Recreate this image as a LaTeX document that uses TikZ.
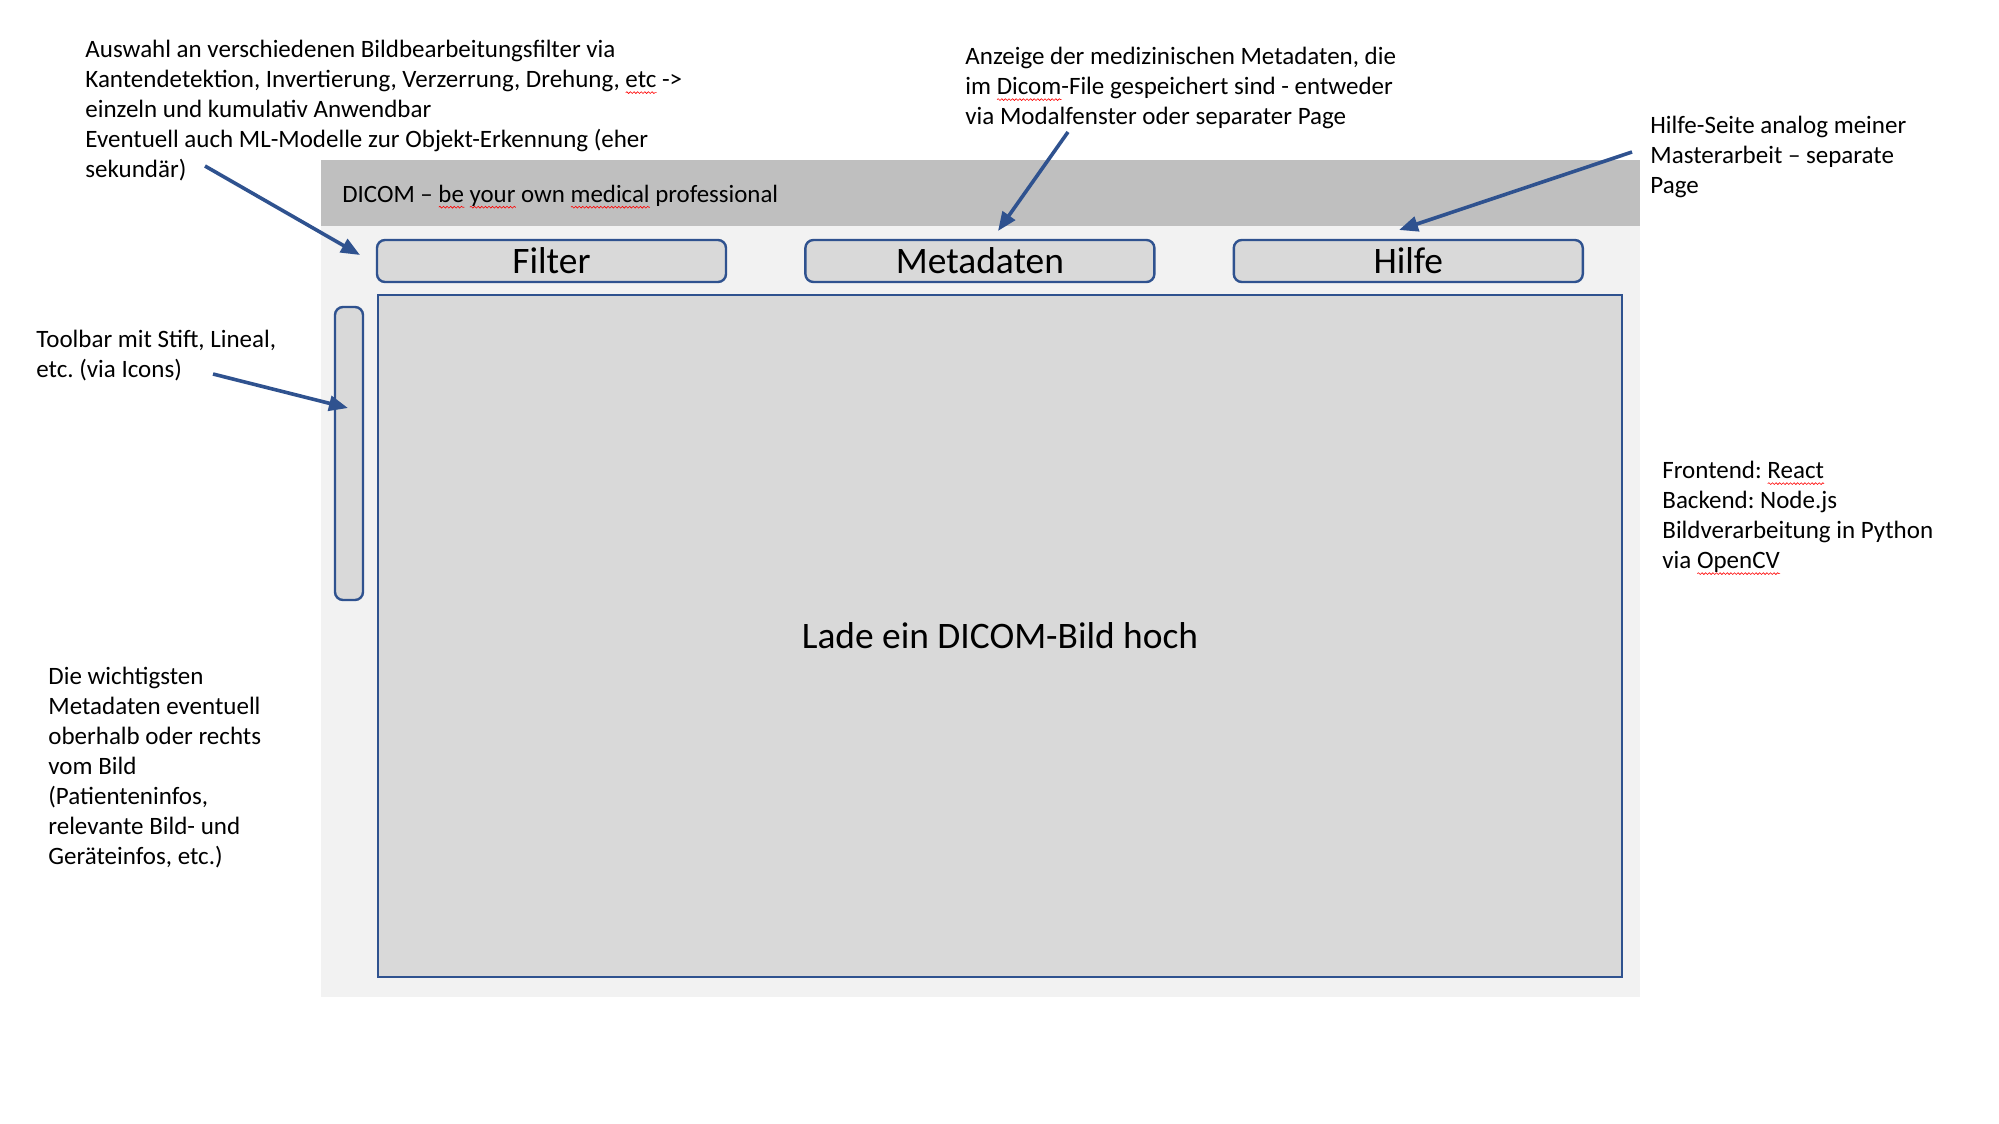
\documentclass[tikz,border=0pt]{standalone}
\usepackage{fontspec}
\setmainfont{Carlito}
\usetikzlibrary{positioning,arrows.meta,decorations.pathmorphing}
\definecolor{panelgray}{HTML}{F2F2F2}
\definecolor{headgray}{HTML}{BFBFBF}
\definecolor{boxgray}{HTML}{D9D9D9}
\definecolor{boxblue}{HTML}{2F528F}
\frenchspacing
\newcommand\spellchk[1]{\setbox0\hbox{#1}\rlap{\tikz[baseline=0pt]\draw[red, line width=0.3pt, decorate, decoration={snake, amplitude=0.45pt, segment length=1.8pt}] (0pt,-2.6pt) -- (\wd0,-2.6pt);}\box0\relax}

\begin{document}
\begin{tikzpicture}[x=0.5pt, y=-0.5pt,
    note/.style = {anchor=north west, align=left, inner sep=0pt, font=\fontsize{12.5}{15}\selectfont},
    btn/.style = {draw=boxblue, fill=boxgray, line width=1.2pt, rounded corners=4pt, minimum width=174.5pt, minimum height=21pt, inner sep=0pt, font=\fontsize{18.7}{21}\selectfont},
    arr/.style = {draw=boxblue, line width=1.8pt, -{Triangle[length=9.5pt,width=7.5pt]}}]
    \useasboundingbox[fill=white] (0,0) rectangle (1999,1124);

    % app window
    \fill[panelgray] (321,226) rectangle (1640,997);
    \fill[headgray] (321,160) rectangle (1640,226);
    \node[anchor=base west, inner sep=0pt, font=\fontsize{12.45}{16}\selectfont] (title) at (342,202)
        {DICOM – \spellchk{be} \spellchk{your} own \spellchk{medical} professional};

    \node[btn] (filter) at (551.5,261) {Filter};
    \node[btn, right=38.5pt of filter] (meta) {Metadaten};
    \node[btn, right=38.5pt of meta] (hilfe) {Hilfe};

    \node[draw=boxblue, fill=boxgray, line width=1.2pt, rounded corners=4pt, minimum width=14pt, minimum height=146.5pt] (toolbar) at (349,453.5) {};
    \node[draw=boxblue, fill=boxgray, line width=1.4pt, minimum width=622pt, minimum height=341pt, font=\fontsize{18.7}{22}\selectfont] (canvas) at (1000,636) {Lade ein DICOM-Bild hoch};

    % notes
    \node[note] (auswahl) at (85,36) {\strut Auswahl an verschiedenen Bildbearbeitungsfilter via\\
        Kantendetektion, Invertierung, Verzerrung, Drehung, \spellchk{etc} ->\\
        einzeln und kumulativ Anwendbar\\
        Eventuell auch ML-Modelle zur Objekt-Erkennung (eher\\
        sekundär)};
    \node[note] (anzeige) at (965,43) {\strut Anzeige der medizinischen Metadaten, die\\
        im \spellchk{Dicom}-File gespeichert sind - entweder\\
        via Modalfenster oder separater Page};
    \node[note] (hilfenote) at (1650,112) {\strut Hilfe-Seite analog meiner\\
        Masterarbeit – separate\\
        Page};
    \node[note] (toolnote) at (36,326) {\strut Toolbar mit Stift, Lineal,\\
        etc. (via Icons)};
    \node[note] (stack) at (1662,457) {\strut Frontend: \spellchk{React}\\
        Backend: Node.js\\
        Bildverarbeitung in Python\\
        via \spellchk{OpenCV}};
    \node[note] (wichtig) at (48,663) {\strut Die wichtigsten\\
        Metadaten eventuell\\
        oberhalb oder rechts\\
        vom Bild\\
        (Patienteninfos,\\
        relevante Bild- und\\
        Geräteinfos, etc.)};

    % arrows
    \coordinate (auswahl-from) at (205,166);
    \coordinate (filter-to) at (360,255);
    \coordinate (tool-from) at (213,374);
    \coordinate (toolbar-to) at (348,408);
    \coordinate (anzeige-from) at (1068,132);
    \coordinate (meta-to) at (998,231);
    \coordinate (hilfe-from) at (1632,152);
    \coordinate (hilfe-to) at (1399,230);
    \path[arr] (auswahl-from) -- (filter-to);
    \path[arr] (tool-from) -- (toolbar-to);
    \path[arr] (anzeige-from) -- (meta-to);
    \path[arr] (hilfe-from) -- (hilfe-to);
\end{tikzpicture}
\end{document}
